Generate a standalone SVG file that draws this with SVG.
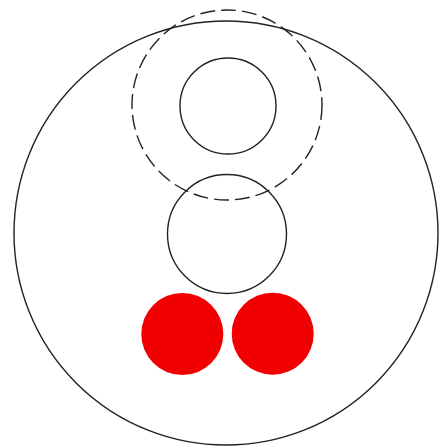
<svg xmlns="http://www.w3.org/2000/svg" width="440" height="448" viewBox="0 0 440 448">
<style>
.ln{fill:none;stroke:#222;stroke-width:1.4}
.dash{stroke-dasharray:15 6}
.red{fill:#f00000;stroke:none}
</style>
<rect width="440" height="448" fill="#fff"/>
<g id="outer"><circle class="ln" cx="226" cy="233" r="212"/></g>
<g id="dashed"><circle class="ln dash" cx="227" cy="105" r="95"/></g>
<g id="inner-top"><circle class="ln" cx="228" cy="106" r="48"/></g>
<g id="middle"><circle class="ln" cx="227" cy="234" r="59.5"/></g>
<g id="red-left"><circle class="red" cx="182.3" cy="334" r="41"/></g>
<g id="red-right"><circle class="red" cx="272.7" cy="333.7" r="41"/></g>
<g id="connectors"/>
</svg>
